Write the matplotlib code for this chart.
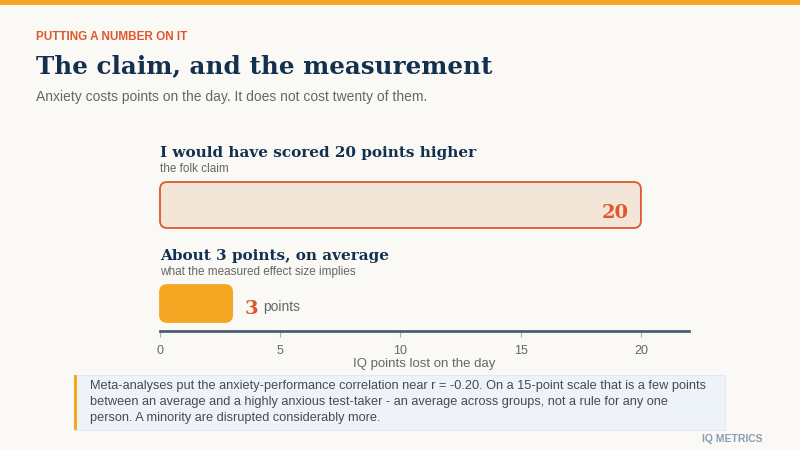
import matplotlib
matplotlib.use("Agg")
import matplotlib.pyplot as plt
from matplotlib.patches import FancyBboxPatch, Rectangle

# Data
labels = ["I would have scored 20 points higher", "About 3 points, on average"]
sublabels = ["the folk claim", "what the measured effect size implies"]
values = [20, 3]
ticks = [0, 5, 10, 15, 20]

BG = "#faf9f6"
NAVY = "#14304f"
ORANGE = "#f5a623"
RED = "#e0582a"
GREY = "#666666"
SERIF = "DejaVu Serif"
SANS = "Liberation Sans"

fig = plt.figure(figsize=(8, 4.5), dpi=100, facecolor=BG)

# top stripe
fig.patches.append(Rectangle((0, 1 - 5 / 450), 1, 5 / 450, transform=fig.transFigure,
                             facecolor=ORANGE, edgecolor="none"))

fig.text(36 / 800, 1 - 37 / 450, "PUTTING A NUMBER ON IT", color=RED, fontsize=8.5,
         fontweight="bold", family=SANS, va="center")
fig.text(36 / 800, 1 - 66 / 450, "The claim, and the measurement", color=NAVY, fontsize=17.7,
         fontweight="bold", family=SERIF, va="center")
fig.text(36 / 800, 1 - 97 / 450, "Anxiety costs points on the day. It does not cost twenty of them.",
         color=GREY, fontsize=10, family=SANS, va="center")

# axes: x pixels 160..689, y pixels 140..331
ax = fig.add_axes([160 / 800, 1 - 331 / 450, 529 / 800, 191 / 450])
ax.set_facecolor("none")
ax.set_xlim(0, 22)
ax.set_ylim(191, 0)

centers = [65, 163.5]
heights = [46, 37]
faces = ["#f3e6d8", ORANGE]
edges = [RED, ORANGE]
for i, v in enumerate(values):
    c, h = centers[i], heights[i]
    ax.add_patch(FancyBboxPatch((0, c - h / 2), v, h,
                                boxstyle="round,pad=0,rounding_size=0.3",
                                mutation_aspect=24, facecolor=faces[i],
                                edgecolor=edges[i], linewidth=1.3, clip_on=False))
    ax.text(0, c - h / 2 - 29, labels[i], color=NAVY, fontsize=11, fontweight="bold",
            family=SERIF, va="center")
    ax.text(0, c - h / 2 - 13, sublabels[i], color=GREY, fontsize=8.5, family=SANS, va="center")

ax.text(values[0] - 0.5, centers[0] + 8, str(values[0]), color=RED, fontsize=14,
        fontweight="bold", family=SERIF, ha="right", va="center")
ax.text(values[1] + 0.5, centers[1] + 5, str(values[1]), color=RED, fontsize=14,
        fontweight="bold", family=SERIF, ha="left", va="center")
ax.text(values[1] + 1.3, centers[1] + 3, "points", color=GREY, fontsize=10,
        family=SANS, ha="left", va="center")

for s in ["top", "right", "left"]:
    ax.spines[s].set_visible(False)
ax.spines["bottom"].set_color("#4a5f73")
ax.spines["bottom"].set_linewidth(2)
ax.set_yticks([])
ax.set_xticks(ticks)
ax.tick_params(axis="x", colors="#aaaaaa", length=4, labelcolor=GREY, labelsize=9, pad=6)
for t in ax.get_xticklabels():
    t.set_family(SANS)
ax.set_xlabel("IQ points lost on the day", color=GREY, fontsize=9.5, family=SANS, labelpad=1)

# footnote box
fig.patches.append(Rectangle((75 / 800, 1 - 430 / 450), 650 / 800, 55 / 450,
                             transform=fig.transFigure, facecolor="#eef3f9",
                             edgecolor="#e2e8ef", linewidth=0.8))
fig.patches.append(Rectangle((74 / 800, 1 - 430 / 450), 3 / 800, 55 / 450,
                             transform=fig.transFigure, facecolor=ORANGE, edgecolor="none"))
fig.text(90 / 800, 1 - 402 / 450,
         "Meta-analyses put the anxiety-performance correlation near r = -0.20. On a 15-point scale that is a few points\n"
         "between an average and a highly anxious test-taker - an average across groups, not a rule for any one\n"
         "person. A minority are disrupted considerably more.",
         color="#4a4a4a", fontsize=9.2, family=SANS, va="center", linespacing=1.4)

fig.text(763 / 800, 1 - 439 / 450, "IQ METRICS", color="#8a9bb0", fontsize=7.5,
         fontweight="bold", family=SANS, ha="right", va="center")

fig.savefig("out.png", dpi=100, facecolor=BG)
